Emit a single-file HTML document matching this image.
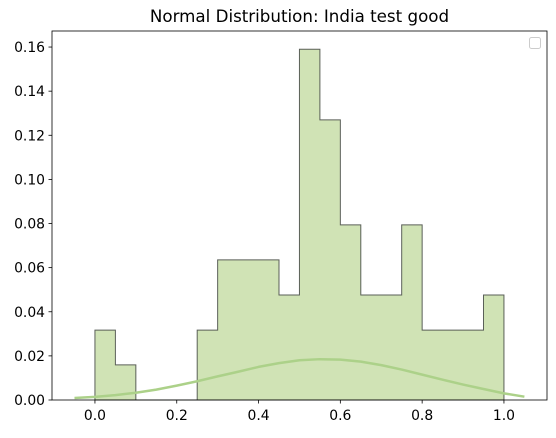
<!DOCTYPE html>
<html><head><meta charset="utf-8"><style>
body{margin:0;background:#fff;}
svg text{font-family:"DejaVu Sans","Liberation Sans",sans-serif;font-size:13.9px;fill:#000;}
</style></head><body>
<svg id="chart" width="556" height="433">
<text x="299.5" y="22" text-anchor="middle" style="font-size:16.7px">Normal Distribution: India test good</text>
<g id="plot"></g>
<rect x="52" y="31" width="495" height="369" fill="none" stroke="#000" stroke-width="0.8"/>
<rect x="529.5" y="37.5" width="11" height="11" rx="2" fill="#fff" stroke="#ccc"/>
</svg>
<script>
const binEdges=[0,0.05,0.1,0.15,0.2,0.25,0.3,0.35,0.4,0.45,0.5,0.55,0.6,0.65,0.7,0.75,0.8,0.85,0.9,0.95,1.0];
const binValues=[0.0317,0.0159,0,0,0,0.0317,0.0635,0.0635,0.0635,0.0476,0.159,0.127,0.0794,0.0476,0.0476,0.0794,0.0317,0.0317,0.0317,0.0476];
const curveX=[-0.05,0,0.05,0.1,0.15,0.2,0.25,0.3,0.35,0.4,0.45,0.5,0.55,0.6,0.65,0.7,0.75,0.8,0.85,0.9,0.95,1.0,1.05];
const curveY=[0.0009,0.0014,0.0022,0.0033,0.0047,0.0065,0.0085,0.0107,0.0128,0.0150,0.0167,0.0180,0.0185,0.0183,0.0174,0.0158,0.0138,0.0115,0.0092,0.0070,0.0050,0.0030,0.0015];
const xTicks=[0,0.2,0.4,0.6,0.8,1.0];
const xTickLabels=["0.0","0.2","0.4","0.6","0.8","1.0"];
const yTicks=[0,0.02,0.04,0.06,0.08,0.10,0.12,0.14,0.16];
const yTickLabels=["0.00","0.02","0.04","0.06","0.08","0.10","0.12","0.14","0.16"];
const NS='http://www.w3.org/2000/svg';
const X=v=>52+(v+0.105)*409;
const Y=v=>400-v*2206;
const g=document.getElementById('plot');
function mk(t,a){const e=document.createElementNS(NS,t);for(const k in a)e.setAttribute(k,a[k]);g.appendChild(e);return e;}
let d='M'+X(binEdges[0])+','+Y(0);
binValues.forEach((v,i)=>{d+=' L'+X(binEdges[i])+','+Y(v)+' L'+X(binEdges[i+1])+','+Y(v);});
d+=' L'+X(binEdges[binEdges.length-1])+','+Y(0)+' Z';
const h=mk('path',{d:d,fill:'#d0e3b5',stroke:'#5a5f58','stroke-width':1});


let c='';curveX.forEach((x,i)=>{c+=(i?' L':'M')+X(x)+','+Y(curveY[i]);});
const cp=mk('path',{d:c,fill:'none',stroke:'#acd189','stroke-width':2.5,'stroke-linejoin':'round'});


xTicks.forEach((v,i)=>{
 mk('line',{x1:X(v),x2:X(v),y1:400,y2:403.5,stroke:'#000','stroke-width':0.8});
 const t=mk('text',{x:X(v),y:420,'text-anchor':'middle'});t.textContent=xTickLabels[i];
 
 
});
yTicks.forEach((v,i)=>{
 mk('line',{x1:48.5,x2:52,y1:Y(v),y2:Y(v),stroke:'#000','stroke-width':0.8});
 const t=mk('text',{x:45,y:Y(v)+5,'text-anchor':'end'});t.textContent=yTickLabels[i];
 
 
});
</script>
</body></html>
